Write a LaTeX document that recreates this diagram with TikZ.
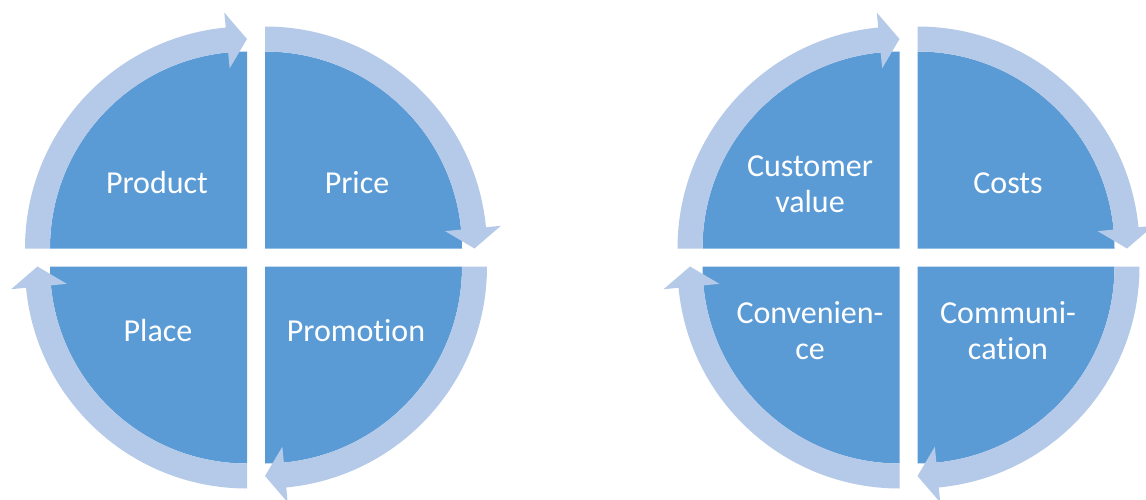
\documentclass[tikz,border=0pt]{standalone}
\usepackage{fontspec}
\setmainfont{Carlito}[Ligatures=NoCommon]
\definecolor{quadblue}{RGB}{91,155,213}
\definecolor{ringblue}{RGB}{181,201,232}
% One quarter of a cycle: a pie segment and its curved arrow, drawn as the
% top-left quarter around the origin; rotate the scope for the other quarters.
\newcommand\quadseg{%
  \fill[quad] (-9,9) -- ++(-197,0) arc[start angle=180,end angle=90,radius=197] -- cycle;
  \fill[ring] (-206,9) -- (-231,9) arc[start angle=180,end angle=95.5,radius=222]
    -- ([shift={(-9,9)}]95.5:237) -- ([shift={(-9,9)}]90:209.5)
    -- ([shift={(-9,9)}]95.5:181) -- ([shift={(-9,9)}]95.5:197)
    arc[start angle=95.5,end angle=180,radius=197] -- cycle;
}
\begin{document}
\begin{tikzpicture}[x=1pt,y=1pt,
  quad/.style={fill=quadblue},
  ring/.style={fill=ringblue},
  qtext/.style={text=white,font=\fontsize{32}{36}\selectfont,align=center,inner sep=0pt}]
\useasboundingbox (0,0) rectangle (1146,499);
\clip (0,0) rectangle (1146,499);

% 4P cycle
\foreach \k in {0,1,2,3}{
  \begin{scope}[shift={(256,241.5)},rotate=-90*\k]\quadseg\end{scope}
}
% 4C cycle
\foreach \k in {0,1,2,3}{
  \begin{scope}[shift={(908.5,241.5)},rotate=-90*\k]\quadseg\end{scope}
}

\node[qtext] (product)   at (157,316) {Product};
\node[qtext] (price)     at (357,316) {Price};
\node[qtext] (place)     at (158,168) {Place};
\node[qtext] (promotion) at (356,168) {Promotion};

\node[qtext] (value)  at (810,315)  {Customer\\value};
\node[qtext] (costs)  at (1008,316) {Costs};
\node[qtext] (conv)   at (810,168)  {Convenien-\\ce};
\node[qtext] (comm)   at (1008,168) {Communi-\\cation};
\end{tikzpicture}
\end{document}
